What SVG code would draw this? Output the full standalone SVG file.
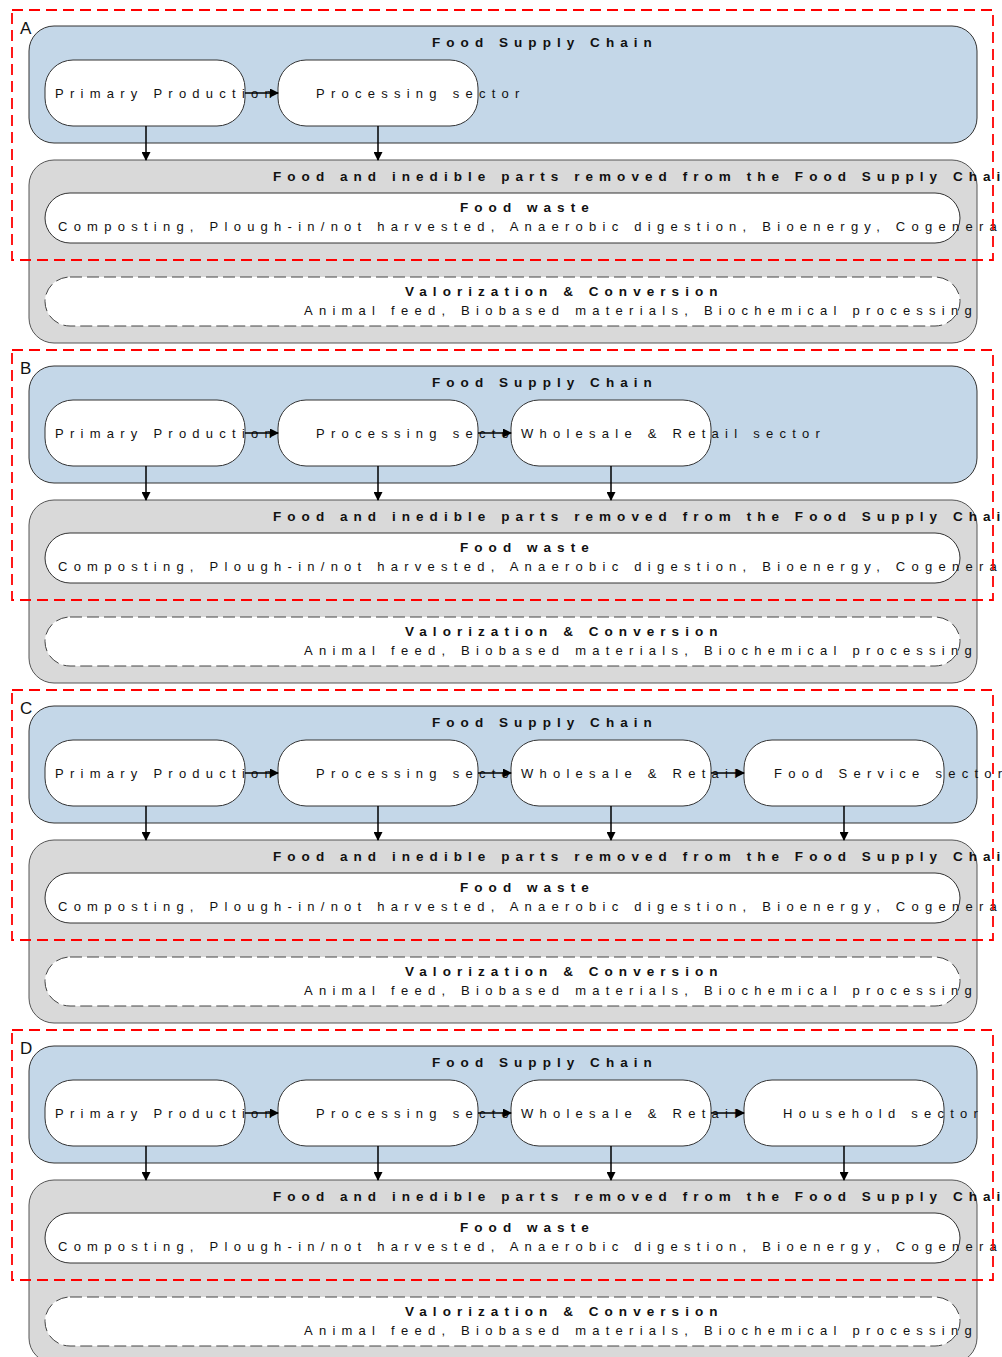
<svg xmlns="http://www.w3.org/2000/svg" width="1002" height="1357" viewBox="0 0 1002 1357">
<style>
.chain{fill:#c4d7e8;stroke:#333;stroke-width:1}
.waste{fill:#d9d9d9;stroke:#555;stroke-width:1}
.node{fill:#fff;stroke:#333;stroke-width:1}
.dnode{fill:#fff;stroke:#444;stroke-width:1;stroke-dasharray:12 5}
.red{fill:none;stroke:#ff0000;stroke-width:1.8;stroke-dasharray:11 6}
.t{font-family:"Liberation Sans",Arial,sans-serif;font-size:13px;letter-spacing:6.25px;fill:#111}
.b{font-weight:bold;font-size:13.5px;letter-spacing:6.05px}
.lab{font-family:"Liberation Sans",Arial,sans-serif;font-size:17px;fill:#111}
.edge{stroke:#000;stroke-width:1.5;fill:none}
</style>
<defs>
<marker id="ah" markerWidth="9" markerHeight="9" refX="8" refY="4.5" orient="auto" markerUnits="userSpaceOnUse">
<path d="M0,0 L9,4.5 L0,9 Z" fill="#000"/>
</marker>
</defs>

<!-- Panel A -->
<g id="panelA">
<text class="lab" x="20" y="34">A</text>
<g id="A-chain"><rect class="chain" x="29" y="26" width="948" height="117" rx="25"/><text class="t b" x="432" y="47">Food Supply Chain</text></g>
<g id="A-primary"><rect class="node" x="45" y="60" width="200" height="66" rx="28"/><text class="t" x="55" y="98">Primary Production</text></g>
<g id="A-processing"><rect class="node" x="278" y="60" width="200" height="66" rx="28"/><text class="t" x="316" y="98">Processing sector</text></g>
<g id="A-removed"><rect class="waste" x="29" y="160" width="948" height="183" rx="25"/><text class="t b" x="273" y="181">Food and inedible parts removed from the Food Supply Chain</text></g>
<g id="A-foodwaste"><rect class="node" x="45" y="193" width="915" height="50" rx="25"/><text class="t b" x="460" y="212">Food waste</text><text class="t" x="58" y="231">Composting, Plough-in/not harvested, Anaerobic digestion, Bioenergy, Cogeneration</text></g>
<g id="A-valor"><rect class="dnode" x="45" y="277" width="915" height="49" rx="25"/><text class="t b" x="405" y="296">Valorization &amp; Conversion</text><text class="t" x="304" y="315">Animal feed, Biobased materials, Biochemical processing</text></g>
<g id="A-connectors">
<line class="edge" x1="245" y1="93" x2="278" y2="93" marker-end="url(#ah)"/>
<line class="edge" x1="146" y1="126" x2="146" y2="160" marker-end="url(#ah)"/>
<line class="edge" x1="378" y1="126" x2="378" y2="160" marker-end="url(#ah)"/>
</g>
<rect class="red" x="12" y="10" width="981" height="250"/>
</g>

<!-- Panel B -->
<g id="panelB" transform="translate(0,340)">
<text class="lab" x="20" y="34">B</text>
<g id="B-chain"><rect class="chain" x="29" y="26" width="948" height="117" rx="25"/><text class="t b" x="432" y="47">Food Supply Chain</text></g>
<g id="B-primary"><rect class="node" x="45" y="60" width="200" height="66" rx="28"/><text class="t" x="55" y="98">Primary Production</text></g>
<g id="B-processing"><rect class="node" x="278" y="60" width="200" height="66" rx="28"/><text class="t" x="316" y="98">Processing sector</text></g>
<g id="B-wholesale"><rect class="node" x="511" y="60" width="200" height="66" rx="28"/><text class="t" x="521" y="98">Wholesale &amp; Retail sector</text></g>
<g id="B-removed"><rect class="waste" x="29" y="160" width="948" height="183" rx="25"/><text class="t b" x="273" y="181">Food and inedible parts removed from the Food Supply Chain</text></g>
<g id="B-foodwaste"><rect class="node" x="45" y="193" width="915" height="50" rx="25"/><text class="t b" x="460" y="212">Food waste</text><text class="t" x="58" y="231">Composting, Plough-in/not harvested, Anaerobic digestion, Bioenergy, Cogeneration</text></g>
<g id="B-valor"><rect class="dnode" x="45" y="277" width="915" height="49" rx="25"/><text class="t b" x="405" y="296">Valorization &amp; Conversion</text><text class="t" x="304" y="315">Animal feed, Biobased materials, Biochemical processing</text></g>
<g id="B-connectors">
<line class="edge" x1="245" y1="93" x2="278" y2="93" marker-end="url(#ah)"/>
<line class="edge" x1="478" y1="93" x2="511" y2="93" marker-end="url(#ah)"/>
<line class="edge" x1="146" y1="126" x2="146" y2="160" marker-end="url(#ah)"/>
<line class="edge" x1="378" y1="126" x2="378" y2="160" marker-end="url(#ah)"/>
<line class="edge" x1="611" y1="126" x2="611" y2="160" marker-end="url(#ah)"/>
</g>
<rect class="red" x="12" y="10" width="981" height="250"/>
</g>

<!-- Panel C -->
<g id="panelC" transform="translate(0,680)">
<text class="lab" x="20" y="34">C</text>
<g id="C-chain"><rect class="chain" x="29" y="26" width="948" height="117" rx="25"/><text class="t b" x="432" y="47">Food Supply Chain</text></g>
<g id="C-primary"><rect class="node" x="45" y="60" width="200" height="66" rx="28"/><text class="t" x="55" y="98">Primary Production</text></g>
<g id="C-processing"><rect class="node" x="278" y="60" width="200" height="66" rx="28"/><text class="t" x="316" y="98">Processing sector</text></g>
<g id="C-wholesale"><rect class="node" x="511" y="60" width="200" height="66" rx="28"/><text class="t" x="521" y="98">Wholesale &amp; Retail sector</text></g>
<g id="C-foodservice"><rect class="node" x="744" y="60" width="200" height="66" rx="28"/><text class="t" x="774" y="98">Food Service sector</text></g>
<g id="C-removed"><rect class="waste" x="29" y="160" width="948" height="183" rx="25"/><text class="t b" x="273" y="181">Food and inedible parts removed from the Food Supply Chain</text></g>
<g id="C-foodwaste"><rect class="node" x="45" y="193" width="915" height="50" rx="25"/><text class="t b" x="460" y="212">Food waste</text><text class="t" x="58" y="231">Composting, Plough-in/not harvested, Anaerobic digestion, Bioenergy, Cogeneration</text></g>
<g id="C-valor"><rect class="dnode" x="45" y="277" width="915" height="49" rx="25"/><text class="t b" x="405" y="296">Valorization &amp; Conversion</text><text class="t" x="304" y="315">Animal feed, Biobased materials, Biochemical processing</text></g>
<g id="C-connectors">
<line class="edge" x1="245" y1="93" x2="278" y2="93" marker-end="url(#ah)"/>
<line class="edge" x1="478" y1="93" x2="511" y2="93" marker-end="url(#ah)"/>
<line class="edge" x1="711" y1="93" x2="744" y2="93" marker-end="url(#ah)"/>
<line class="edge" x1="146" y1="126" x2="146" y2="160" marker-end="url(#ah)"/>
<line class="edge" x1="378" y1="126" x2="378" y2="160" marker-end="url(#ah)"/>
<line class="edge" x1="611" y1="126" x2="611" y2="160" marker-end="url(#ah)"/>
<line class="edge" x1="844" y1="126" x2="844" y2="160" marker-end="url(#ah)"/>
</g>
<rect class="red" x="12" y="10" width="981" height="250"/>
</g>

<!-- Panel D -->
<g id="panelD" transform="translate(0,1020)">
<text class="lab" x="20" y="34">D</text>
<g id="D-chain"><rect class="chain" x="29" y="26" width="948" height="117" rx="25"/><text class="t b" x="432" y="47">Food Supply Chain</text></g>
<g id="D-primary"><rect class="node" x="45" y="60" width="200" height="66" rx="28"/><text class="t" x="55" y="98">Primary Production</text></g>
<g id="D-processing"><rect class="node" x="278" y="60" width="200" height="66" rx="28"/><text class="t" x="316" y="98">Processing sector</text></g>
<g id="D-wholesale"><rect class="node" x="511" y="60" width="200" height="66" rx="28"/><text class="t" x="521" y="98">Wholesale &amp; Retail sector</text></g>
<g id="D-household"><rect class="node" x="744" y="60" width="200" height="66" rx="28"/><text class="t" x="783" y="98">Household sector</text></g>
<g id="D-removed"><rect class="waste" x="29" y="160" width="948" height="183" rx="25"/><text class="t b" x="273" y="181">Food and inedible parts removed from the Food Supply Chain</text></g>
<g id="D-foodwaste"><rect class="node" x="45" y="193" width="915" height="50" rx="25"/><text class="t b" x="460" y="212">Food waste</text><text class="t" x="58" y="231">Composting, Plough-in/not harvested, Anaerobic digestion, Bioenergy, Cogeneration</text></g>
<g id="D-valor"><rect class="dnode" x="45" y="277" width="915" height="49" rx="25"/><text class="t b" x="405" y="296">Valorization &amp; Conversion</text><text class="t" x="304" y="315">Animal feed, Biobased materials, Biochemical processing</text></g>
<g id="D-connectors">
<line class="edge" x1="245" y1="93" x2="278" y2="93" marker-end="url(#ah)"/>
<line class="edge" x1="478" y1="93" x2="511" y2="93" marker-end="url(#ah)"/>
<line class="edge" x1="711" y1="93" x2="744" y2="93" marker-end="url(#ah)"/>
<line class="edge" x1="146" y1="126" x2="146" y2="160" marker-end="url(#ah)"/>
<line class="edge" x1="378" y1="126" x2="378" y2="160" marker-end="url(#ah)"/>
<line class="edge" x1="611" y1="126" x2="611" y2="160" marker-end="url(#ah)"/>
<line class="edge" x1="844" y1="126" x2="844" y2="160" marker-end="url(#ah)"/>
</g>
<rect class="red" x="12" y="10" width="981" height="250"/>
</g>
</svg>
